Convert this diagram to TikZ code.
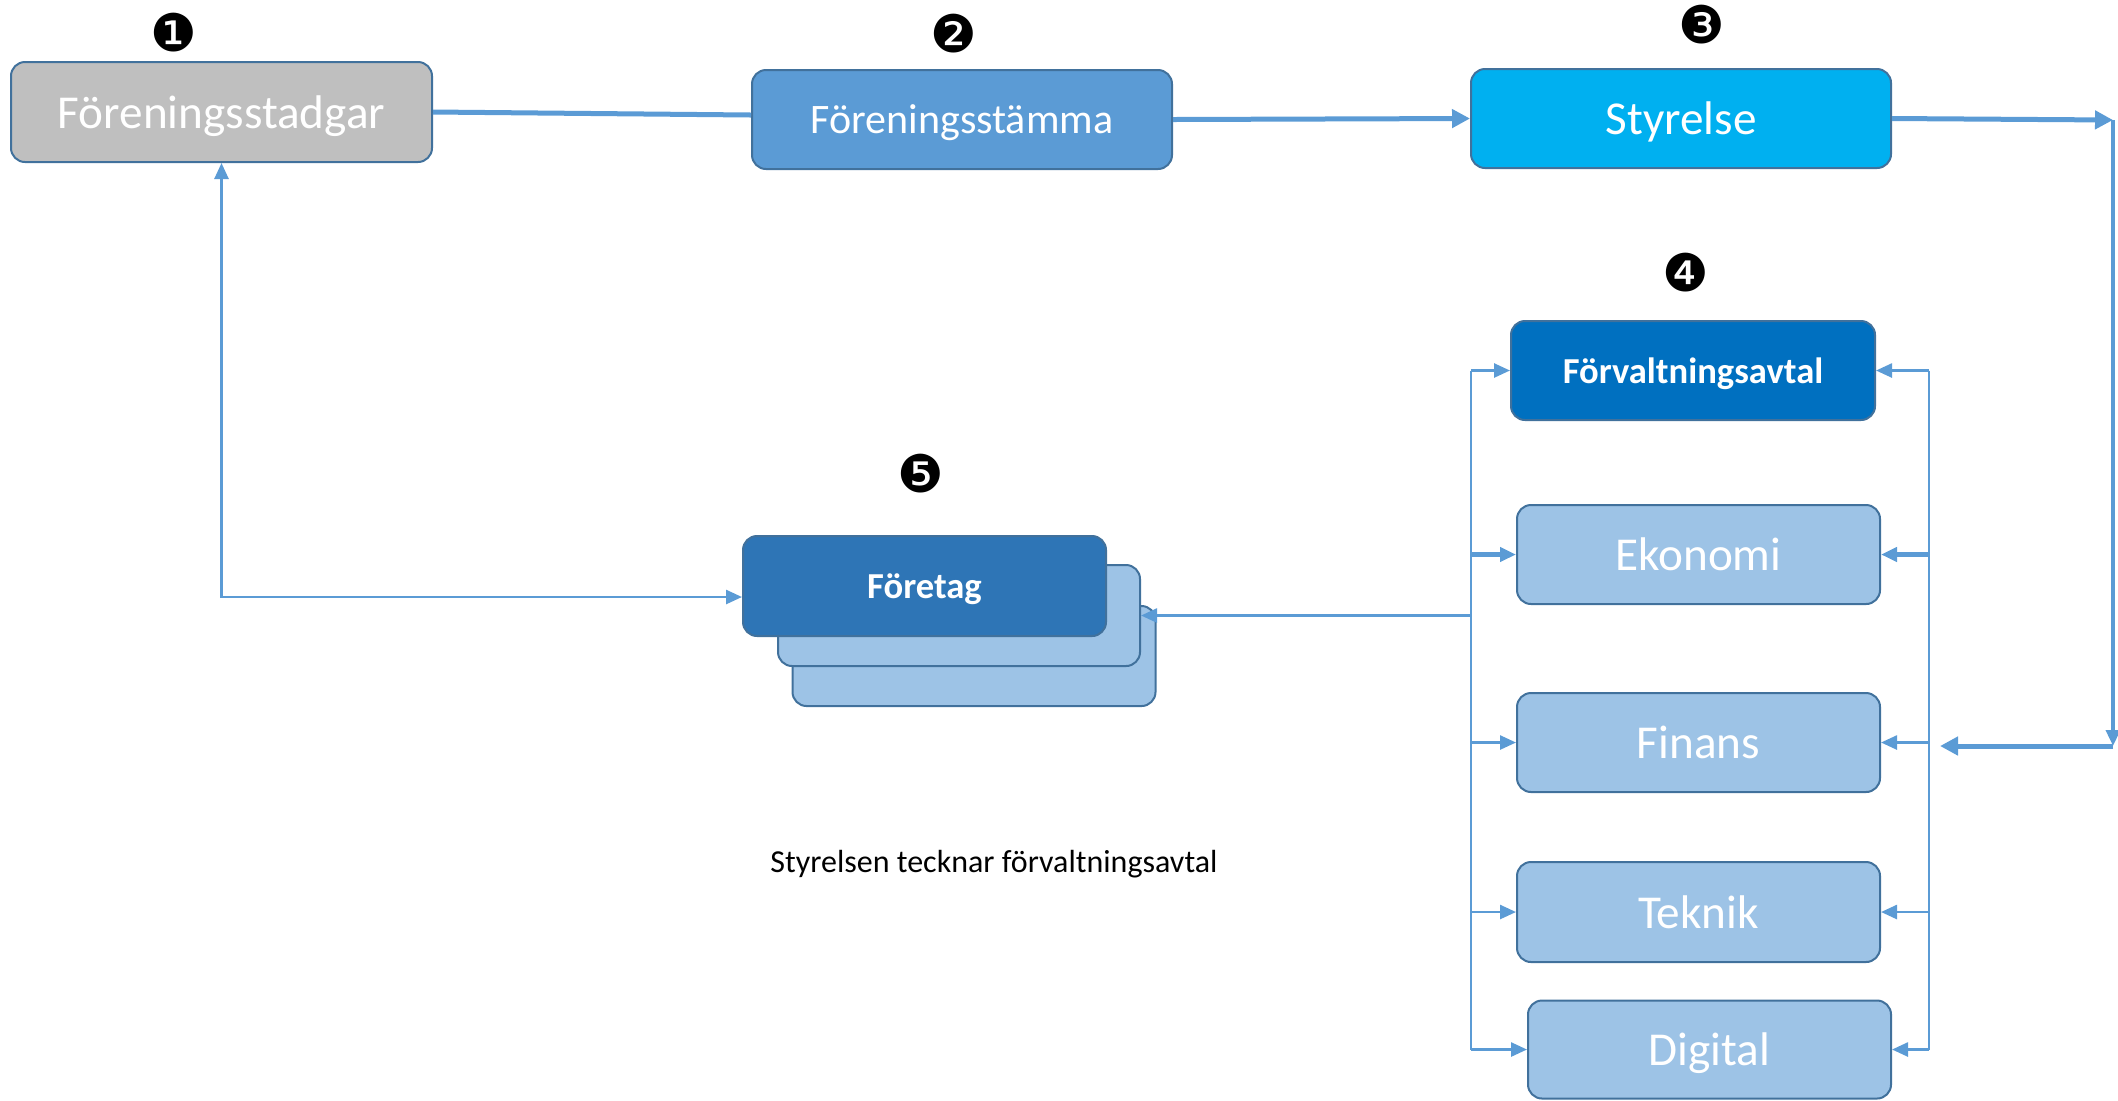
\documentclass[tikz,border=0pt]{standalone}
\usepackage{fontspec}
\setmainfont{Carlito}
\newfontfamily\dejavu{DejaVu Sans}
\usetikzlibrary{arrows.meta,calc}
\definecolor{conncol}{HTML}{5B9BD5}
\definecolor{bordcol}{HTML}{41719C}
\definecolor{grayfill}{HTML}{BFBFBF}
\definecolor{midblue}{HTML}{5B9BD5}
\definecolor{cyanfill}{HTML}{00B0F0}
\definecolor{darkfill}{HTML}{0070C0}
\definecolor{lightfill}{HTML}{9DC3E6}
\definecolor{compfill}{HTML}{2E75B6}
\begin{document}
\begin{tikzpicture}[x=0.5pt,y=-0.5pt,
  box/.style={draw=bordcol,line width=1pt,rounded corners=7pt,text=white,inner sep=0pt,anchor=center},
  bigtext/.style={font=\fontsize{23.6}{28}\selectfont,text height=22.5pt,text depth=6.35pt},
  midtext/.style={font=\fontsize{21}{25}\selectfont,text height=20pt,text depth=5.65pt},
  boldtext/.style={font=\bfseries\fontsize{18.3}{22}\selectfont,text height=17.4pt,text depth=4.9pt},
  badge/.style={font=\dejavu\fontsize{26}{28}\selectfont,inner sep=0pt},
  mainline/.style={draw=conncol,line width=2.5pt},
  thinline/.style={draw=conncol,line width=1.3pt},
  bigtip/.style={-{Triangle[length=9pt,width=9pt]}},
  smalltip/.style={-{Triangle[length=8pt,width=7pt]}}
]
\useasboundingbox (0,0) rectangle (2118,1100);

% top row
\node[box,fill=grayfill,minimum width=210.5pt,minimum height=50pt,bigtext] (n1) at (221.5,112) {Föreningsstadgar};
\node[box,fill=midblue,minimum width=210pt,minimum height=49.5pt,midtext] (n2) at (962,119.5) {Föreningsstämma};
\node[box,fill=cyanfill,minimum width=210pt,minimum height=49.5pt,bigtext] (n3) at (1681,118.5) {Styrelse};

% right column
\node[box,fill=darkfill,minimum width=182pt,minimum height=49.5pt,boldtext] (fa) at (1693,370.5) {Förvaltningsavtal};
\node[box,fill=lightfill,minimum width=181.5pt,minimum height=49.5pt,bigtext] (ek) at (1698.5,554.5) {Ekonomi};
\node[box,fill=lightfill,minimum width=181.5pt,minimum height=49.5pt,bigtext] (fi) at (1698.5,742.5) {Finans};
\node[box,fill=lightfill,minimum width=181.5pt,minimum height=50pt,bigtext] (te) at (1698.5,912) {Teknik};
\node[box,fill=lightfill,minimum width=181.5pt,minimum height=49pt,bigtext] (di) at (1709.5,1049.5) {Digital};

% company stack
\node[box,fill=lightfill,minimum width=181.5pt,minimum height=50pt] (s2) at (974,656) {};
\node[box,fill=lightfill,minimum width=181pt,minimum height=50.5pt] (s1) at (959,615.5) {};
\node[box,fill=compfill,minimum width=181.5pt,minimum height=50pt,boldtext] (fo) at (924.5,586) {Företag};

% badges
\node[badge] (b1) at (173.5,32.5) {❶};
\node[badge] (b2) at (954,34) {❷};
\node[badge] (b3) at (1702,25) {❸};
\node[badge] (b4) at (1686,273) {❹};
\node[badge] (b5) at (921,474) {❺};

% caption
\node[font=\fontsize{16}{19}\selectfont,inner sep=0pt,text height=15.2pt,text depth=4.3pt] (cap) at (994,862) {Styrelsen tecknar förvaltningsavtal};

% top connectors
\draw[mainline] (n1.east) -- ($(n2.west)+(0,-4.5)$);
\draw[mainline,bigtip] (n2.east) -- (n3.west);
\coordinate (tr) at (2113,120);
\coordinate (br) at (2113,746);
\coordinate (intip) at (1940,746);
\draw[mainline,bigtip] (n3.east) -- (tr);
\draw[thinline,line width=1.8pt,smalltip] (tr) -- (br);
\draw[mainline,bigtip] (br) -- (intip);

% buses
\coordinate (lb) at (1471,0);
\coordinate (rb) at (1929,0);
\draw[thinline] (fa.west -| lb) -- (di.west -| lb);
\draw[thinline] (fa.east -| rb) -- (di.east -| rb);
\foreach \b in {fa,fi,te,di}{
  \draw[thinline,smalltip] (\b.west -| lb) -- (\b.west);
  \draw[thinline,smalltip] (\b.east -| rb) -- (\b.east);
}
\draw[thinline,line width=2.2pt,smalltip] (ek.west -| lb) -- (ek.west);
\draw[thinline,line width=2.2pt,smalltip] (ek.east -| rb) -- (ek.east);

% to company
\draw[thinline,smalltip] (s1.east -| lb) -- (s1.east);

% left L connector
\draw[thinline,{Triangle[length=8pt,width=7pt]}-{Triangle[length=8pt,width=7pt]}] (n1.south) |- ($(fo.west)+(0,11)$);
\end{tikzpicture}
\end{document}
